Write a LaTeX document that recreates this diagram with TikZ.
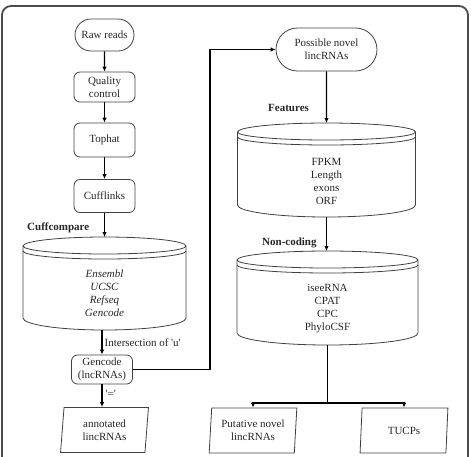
\documentclass[tikz,border=0pt]{standalone}
\usepackage{fontspec}
\setmainfont{Liberation Serif}
\usetikzlibrary{shapes.geometric,shapes.misc,arrows.meta}
% cylinder: name, centre x, top y, half width, bottom y
\newcommand{\drum}[5]{%
 \draw[drumline] (#2-#4,#3-9) arc[start angle=180,delta angle=-180,x radius=#4,y radius=9]
   -- (#2+#4,#5+12) arc[start angle=0,delta angle=-180,x radius=#4,y radius=12] -- cycle;
 \draw[drumline] (#2-#4,#3-9) arc[start angle=180,delta angle=180,x radius=#4,y radius=8];
 \draw[drumline] (#2-#4,#3-14) arc[start angle=180,delta angle=180,x radius=#4,y radius=8];
 \coordinate (#1-top) at (#2,#3);
 \coordinate (#1-bot) at (#2,#5);
}

\begin{document}
\begin{tikzpicture}[x=1pt,y=1pt,
  every node/.style={font=\fontsize{11}{13}\selectfont, text=black!85},
  pill/.style={draw=black!75, line width=0.8pt, rounded rectangle, align=center, inner sep=1pt},
  stepbox/.style={draw=black!75, line width=0.8pt, rounded corners=6pt, minimum width=61pt, align=center, inner sep=1pt},
  outbox/.style={draw=black!75, line width=0.8pt, trapezium, trapezium left angle=85, trapezium right angle=95,
    trapezium stretches=true, minimum width=88pt, minimum height=45pt, align=center, inner sep=1pt},
  drumline/.style={draw=black!75, line width=0.8pt},
  tag/.style={font=\fontsize{11}{13}\selectfont\bfseries, anchor=west, inner sep=0pt},
  arrow/.style={-{Latex[length=5pt,width=4.5pt]}, line width=1.3pt}
]
\useasboundingbox (0,0) rectangle (471,-456);
\draw[line width=1.8pt, black!70, rounded corners=9pt] (2,-6) rectangle (468,-466);

% left column
\node[pill, minimum width=61pt, minimum height=32pt] (rawreads) at (104.5,-35) {Raw reads};
\node[stepbox, minimum height=30pt] (quality) at (104.5,-87) {Quality\\control};
\node[stepbox, minimum height=34pt] (tophat) at (104.5,-140) {Tophat};
\node[stepbox, minimum height=33pt] (cufflinks) at (104.5,-196) {Cufflinks};
\node[tag] (cufftag) at (27,-228) {Cuffcompare};
\drum{cuffdb}{104.5}{-237}{81.5}{-330}
\node[align=center, font=\fontsize{11}{13}\selectfont\itshape] (cufftext) at (104.5,-293) {Ensembl\\UCSC\\Refseq\\Gencode};
\node[stepbox, minimum height=29pt] (gencode) at (102,-369.5) {Gencode\\(lncRNAs)};
\node[outbox] (annotated) at (104.5,-430) {annotated\\lincRNAs};

\draw[arrow] (rawreads) -- (quality);
\draw[arrow] (quality) -- (tophat);
\draw[arrow] (tophat) -- (cufflinks);
\draw[arrow] (cufflinks) -- (cuffdb-top);
\draw[arrow] (gencode.north |- cuffdb-bot) -- node[right, inner sep=2pt] {Intersection of \textquotesingle u\textquotesingle} (gencode.north);
\draw[arrow] (gencode.south) -- node[right, inner sep=3pt, pos=0.4] {\textquotesingle=\textquotesingle} (annotated.north -| gencode.south);

% right column
\node[pill, minimum width=103pt, minimum height=43pt] (novel) at (326.5,-49.5) {Possible novel\\lincRNAs};
\draw[arrow] (gencode.east) -- ++(77,0) |- (novel.west);
\node[tag] (feattag) at (268,-108) {Features};
\drum{featdb}{326.5}{-123}{89}{-217}
\node[align=center] (feattext) at (326.5,-181) {FPKM\\Length\\exons\\ORF};
\node[tag] (nonctag) at (262,-243) {Non-coding};
\drum{noncdb}{327.5}{-251}{90.5}{-345}
\node[align=center] (nonctext) at (327.5,-308.5) {iseeRNA\\CPAT\\CPC\\PhyloCSF};
\node[outbox] (putative) at (253,-430.5) {Putative novel\\lincRNAs};
\node[outbox] (tucps) at (404,-430.5) {TUCPs};

\draw[arrow] (novel) -- (novel.south |- featdb-top);
\draw[arrow] (featdb-bot) -- (noncdb-top -| featdb-bot);
\draw[line width=1.3pt] (noncdb-bot) -- (327.5,-403) coordinate (split);
\draw[arrow] (split) -| (putative.north);
\draw[arrow] (split) -| (tucps.north);
\end{tikzpicture}
\end{document}
